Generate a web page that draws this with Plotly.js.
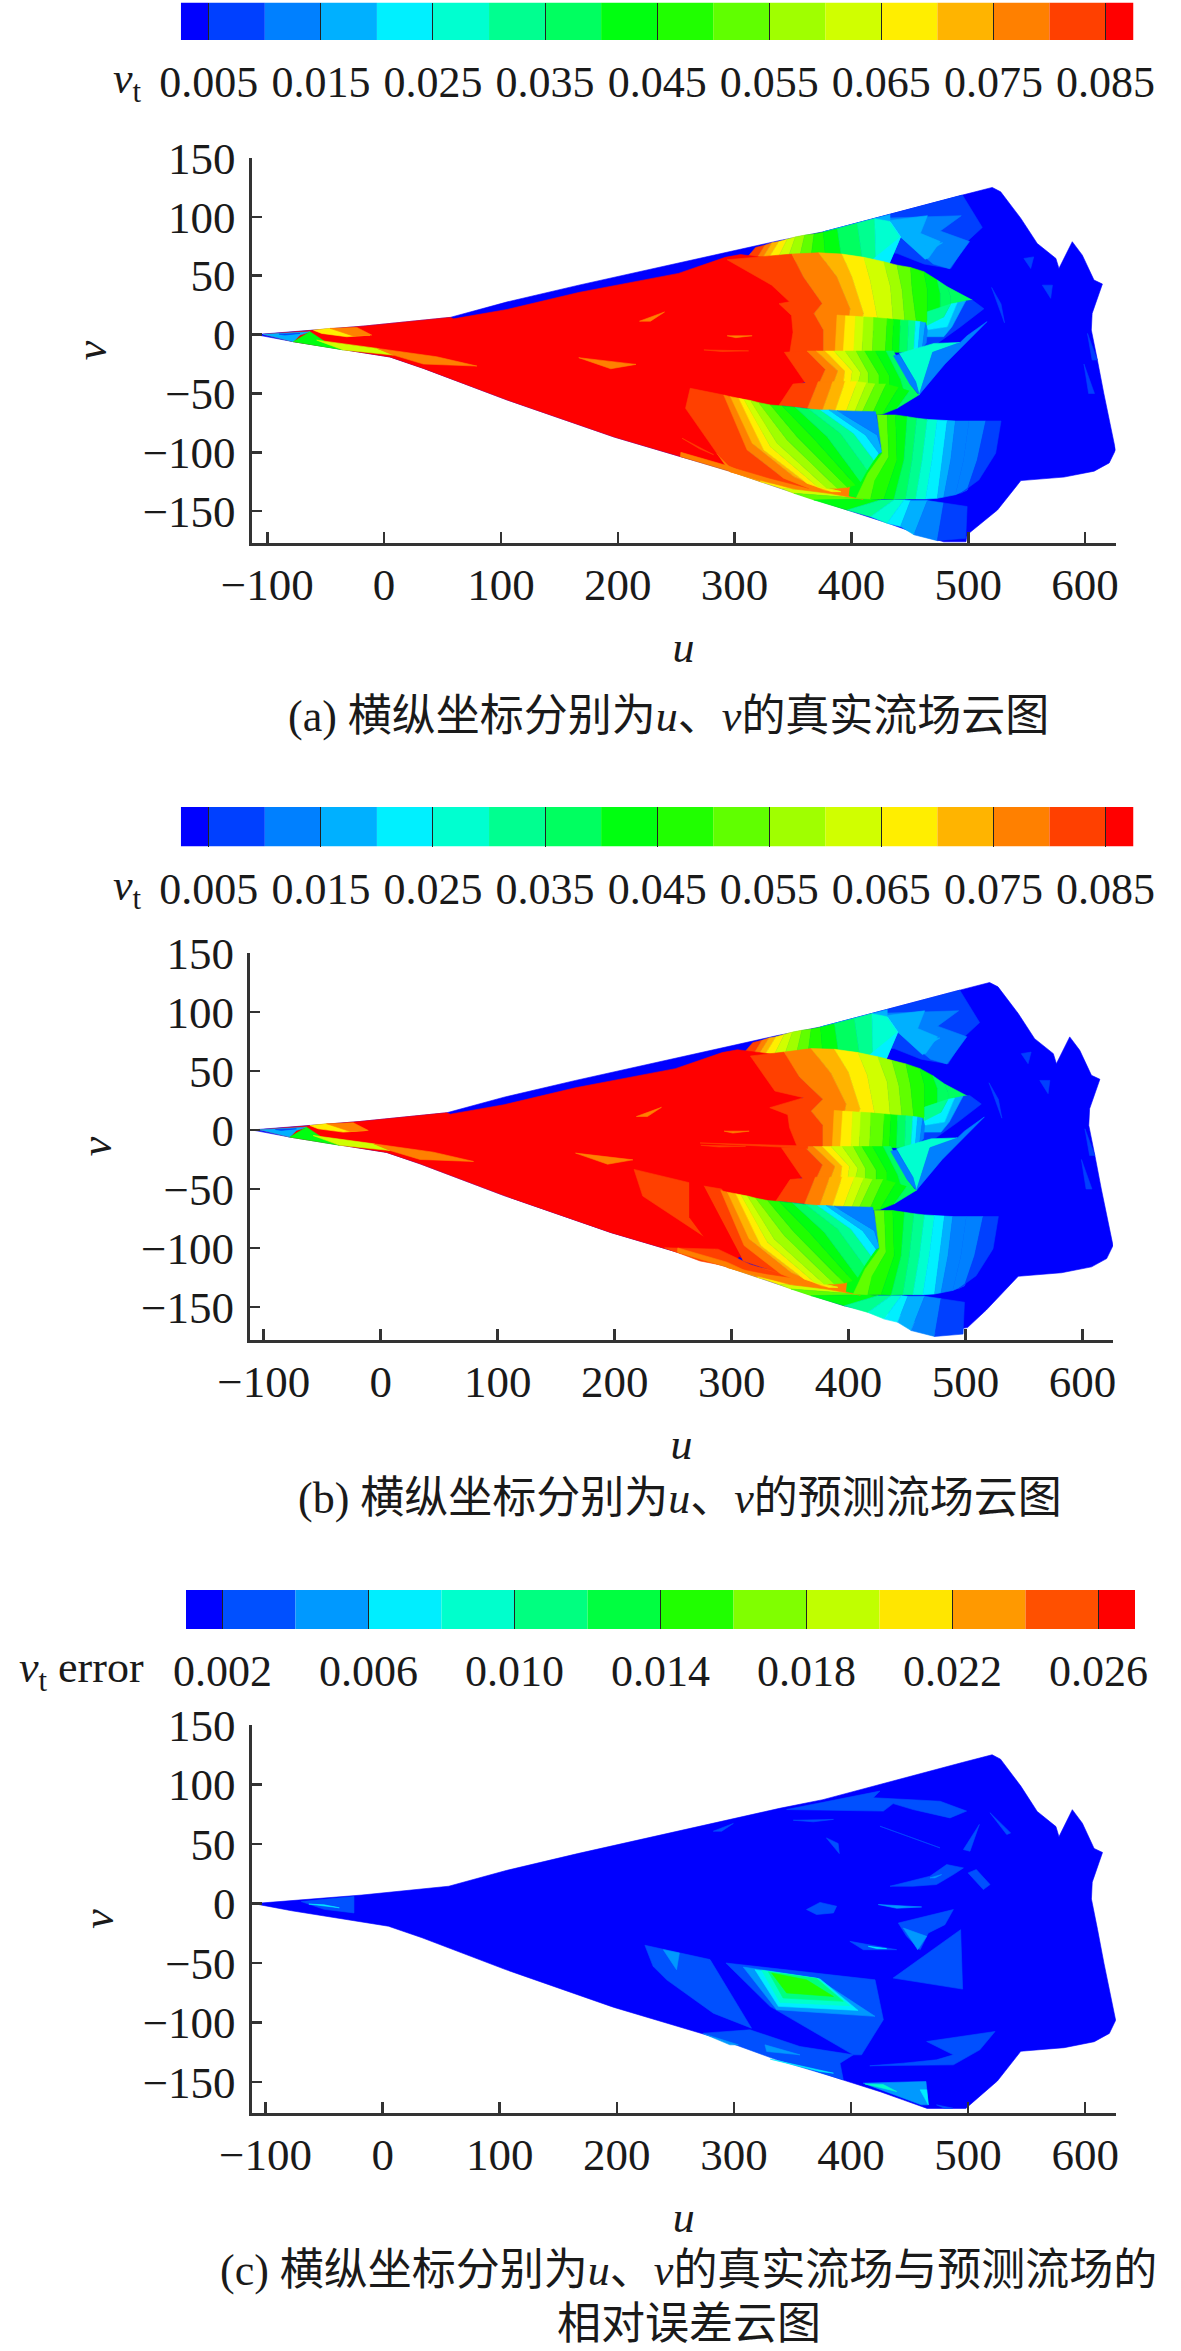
<!DOCTYPE html>
<html><head><meta charset="utf-8">
<script src="https://cdn.plot.ly/plotly-3.0.1.min.js"></script>
<style>html,body{margin:0;padding:0;background:#fff}</style></head>
<body><div id="chart" style="width:1181px;height:2351px"></div>
<script>
// ---------- colour levels and colour bar tick labels ----------
const vtColors=['#0000ff','#0040ff','#0080ff','#00b0ff','#00f0ff','#00ffd0','#00ff90','#00ff60','#00ff10','#20ff00','#60ff00','#a0ff00','#d0ff00','#ffee00','#ffb400','#ff8000','#ff4000','#ff0000'];
const vtStarts=[0.0025,0.005,0.01,0.015,0.02,0.025,0.03,0.035,0.04,0.045,0.05,0.055,0.06,0.065,0.07,0.075,0.08,0.085];
const vtWidths=[0.0025,0.005,0.005,0.005,0.005,0.005,0.005,0.005,0.005,0.005,0.005,0.005,0.005,0.005,0.005,0.005,0.005,0.0025];
const vtTicks=[0.005,0.015,0.025,0.035,0.045,0.055,0.065,0.075,0.085];
const vtTickText=['0.005','0.015','0.025','0.035','0.045','0.055','0.065','0.075','0.085'];
const errColors=['#0000ff','#0050ff','#0099ff','#00eeff','#00ffcc','#00ff80','#00ff40','#20ff00','#80ff00','#c0ff00','#ffe600','#ff9900','#ff5000','#ff0000'];
const errStarts=[0.001,0.002,0.004,0.006,0.008,0.010,0.012,0.014,0.016,0.018,0.020,0.022,0.024,0.026];
const errWidths=[0.001,0.002,0.002,0.002,0.002,0.002,0.002,0.002,0.002,0.002,0.002,0.002,0.002,0.001];
const errTicks=[0.002,0.006,0.010,0.014,0.018,0.022,0.026];
const errTickText=['0.002','0.006','0.010','0.014','0.018','0.022','0.026'];
const uTicks=[-100,0,100,200,300,400,500,600];
const vTicks=[-150,-100,-50,0,50,100,150];

// ---------- field outline (u,v) ----------
const outlineUpper=[[-110,0],[-60.5,3.8],[-17.7,7.2],[56.5,14.6],[105.5,27.8],[166.6,42],[252,60.7],[292,69.3],[339,80],[376,87.3],[445,105.7],[495,118.5],[520.5,125],[527.7,121.3],[545,98.7],[559,77.4],[575,64.7],[577.6,56.2],[589,78.9],[597.6,67.5],[607.6,46.3],[614.8,43],[606,18],[605.3,3.9],[610.5,-21.6],[616,-50],[626,-98],[620.6,-109],[607.7,-116],[582,-121],[545,-124]];
const outlineLower=[[396,-149],[368,-140],[339,-130.5],[296,-116],[253.6,-103.6],[197,-87],[105,-55.4],[59.5,-38],[33.7,-28.7],[5,-19],[-35,-13],[-77.7,-6]];
const bottomA=[[525,-149],[499,-170],[498,-176],[479,-176],[459,-170],[430.6,-160]];
const bottomB=[[517.7,-152.6],[501.6,-167.5],[472.6,-171.8],[447,-156.8],[425,-155]];
const bottomC=[[525,-149],[498,-172],[465,-172],[445,-165],[425,-158]];

// ---------- red core ----------
const redCoreA=[[-103,0.2],[-60.5,3.8],[-17.7,7.2],[56.5,14.6],[59.6,13.4],[105.5,21.4],[166.6,35.8],[252,52],[292,65.6],[305,68],[352,62],[360,30],[360,-14],[362,-39],[352,-44],[340,-60],[300,-116],[253.6,-103.6],[197,-87],[105,-55.4],[59.5,-38],[33.7,-28.7],[5,-19],[-35,-13],[-77.7,-6]];

// ---------- upper lobe bands ----------
const lobeLevels=[16,15,14,13,12,11,10,9,8,7,7];
const lobeA=[[[293.6,63.6],[331.8,42],[347,27.8],[338,26.3],[348.7,16.3],[350,2],[347,-16.7]],
[[349,68.4],[359,49],[375,26.5],[368,18],[376,4],[376,-16.7]],
[[372,69.5],[387.7,49],[399,22],[398,14],[388,-15.5]],
[[392,68.4],[400.6,49],[410.6,18],[400,-15]],
[[410.6,65.6],[416,46.3],[423.4,8]],
[[427.7,61.9],[433.4,40.6],[436,8]],
[[439,59],[443.4,37.8],[446,8]],
[[450.6,57],[452,37.8],[456,8]],
[[462,53.4],[465,37.8],[465,8]],
[[473.4,46.3],[476,35],[476,22]],
[[482,40.6],[485,32],[485,25]],
[[503.4,29.3]]];
const lobeB=[[[316,62.7],[337,33],[361.6,27.4],[332.6,18.9],[348,13],[349.5,2],[356,-14]],
[[345,66],[358,45],[378,26],[368,16],[378,4],[378,-14]],
[[368,69],[385,48],[398,22],[396,12],[388,-14]],
[[388,68.4],[400,49],[410,18],[400,-14]],
[[408,65.6],[416,46.3],[423.4,8]],
[[425,62],[433,40.6],[436,8]],
[[437,59],[443,37.8],[446,8]],
[[449,56],[453,37.8],[456,8]],
[[461,52],[465,37.8],[465,8]],
[[472,46],[476,35],[476,22]],
[[482,39],[485,32],[485,25]],
[[503,28]]];

// ---------- outer fan above the lobe ----------
const fanLevels=[16,15,14,13,12,11,10,9,8,7,6,5,4];
const fanStripes=[[[306,60],[318,74]],[[316,60],[326,76]],[[322,62],[332,78]],[[328,63],[338,79]],[[336,63],[345,81]],[[345,63],[352,83]],[[355,63],[360,84.5]],[[365,63],[368,85.5]],[[378,63],[376,87]],[[392,62],[388,90]],[[410,60],[405,94.5]],[[421,57],[420,98.5]],[[430,55],[442,83],[433,96]],[[416,62],[442,83],[433,96]]];
const fanL1=[[376,87.3],[445,105.7],[495,118.5],[512,91],[500,80],[485,56],[462,60],[439,69],[416,70],[433,96]];
const fanL2=[[431,99],[494,101],[476,88],[501,79],[484,56],[470,60],[442,83]];
const fanL3=[[433,97],[465,101],[459,86],[476,79],[466,65],[463,64],[442,83]];
const fanL3b=[[376,87.3],[433,102],[433,96],[405,94]];
const fanL4b=[[462,76],[478,78],[465,70]];

// ---------- inner lobe ----------
const innerLevels=[14,13,12,11,10,9,8,7,6,4,3,2];
const innerLobe=[[[387.7,16.6],[386,-15]],[[395,16],[393,-15]],[[403.5,15.5],[402,-15]],[[410.6,15],[409,-15]],[[419,14.5],[418,-15]],[[430.6,13.5],[429,-15]],[[436,13],[435,-15]],[[442,12.5],[441,-15]],[[449,12],[448,-15]],[[455,11.5],[453.4,-14.5]],[[459,11],[457,-13.5]],[[463.4,10],[460.6,-11.7]],[[465,4],[464,-7]]];

// ---------- patches right of the inner lobe ----------
const rightL6=[[465,19.4],[485,26],[479,15],[465,8]];
const rightL4=[[485,26],[490.5,27],[482,6.7],[464,3.9],[465,11],[479,15]];
const rightL3=[[490.5,27],[497.7,28.5],[486,6.7],[479,-1.8],[464,-1.8],[464,3.9],[482,6.7]];
const rightL1=[[497.7,28.5],[503.4,29.3],[513.4,22],[493.4,6.7],[473.4,-7.5],[462,-13],[464,-1.8],[479,-1.8],[486,6.7]];

// ---------- middle chevron ----------
const chevLevels=[16,15,14,13,12,11,10,9,8,7];
const chevron=[[[342.6,-15],[353,-29.6],[362,-43]],[[362,-14],[377.7,-29.6],[371.6,-43]],[[370,-14],[388.4,-31],[384,-43]],[[377.7,-14],[394.5,-31],[393,-43]],[[385,-14],[400.7,-31],[399,-43]],[[394.5,-14],[408,-32.5],[405,-44]],[[404,-14],[414.4,-32.5],[414.4,-44]],[[411.4,-14],[423.6,-34],[423.6,-44]],[[420.5,-14],[432.8,-35.3],[432.8,-46]],[[429.7,-14],[442,-38],[445,-48]],[[436,-14],[450,-42],[457,-51]]];
const vBlue=[[436,-18],[450,-42],[458,-51],[455,-40],[441,-17]];
const vWedge=[[441,-16],[455,-40],[458,-51],[469.5,-15],[493,-6.7],[470.6,-7.5]];
const vFringe=[[458,-51],[469.5,-15],[493,-6.7],[499,-1],[516,11],[505,0],[480,-25]];

// ---------- lower inner lobe ----------
const lowLobeLevels=[16,15,14,13,12,11,10,9,8,7];
const lowLobe=[[[350,-42],[338,-60]],[[371.6,-40],[362.4,-62.6]],[[384,-40],[374.7,-65.5]],[[394.6,-40],[385.4,-66.9]],[[405,-40],[394.6,-67.4]],[[413,-41],[402,-67.4]],[[420.5,-42],[408,-68.3]],[[429.7,-42],[417.5,-68.3]],[[440.4,-45],[426.7,-67.5]],[[449.6,-48],[439,-62.6]],[[458,-51]]];

// ---------- bottom outer strip ----------
const edgeLevels=[14,13,12,10,8,6,5,4,3,2,1];
const edgeStripes=[[[296.4,-116.4]],[[347.8,-129],[322,-124.9]],[[382,-133.4],[339.3,-130.5]],[[407.8,-139],[350.7,-134.8]],[[416.4,-139.6],[367.8,-140.4]],[[425,-140.4],[396.4,-149]],[[436.4,-140.4],[416.4,-154.6]],[[445,-140.4],[430.6,-160.3]],[[450.6,-141],[442,-163]],[[465,-141],[453.5,-170]],[[479,-143],[473.5,-175]],[[499,-146],[497.8,-173]]];
const wedgeUnderlay=[[285,-101],[296,-112],[342,-120],[364,-128],[408,-122],[410,-140],[382,-135],[350,-131],[296,-116.5]];
const seamFill=[[400,-120],[428,-98],[424,-122],[412,-140],[398,-137]];

// ---------- big lower wedge ----------
const wedgeLevels=[15,14,13,12,11,10,9,8,7,6,4,3,2];
const wedge=[[[290.7,-51.3],[310.7,-98],[342,-122],[363.5,-130.5]],[[296.4,-52.7],[315,-92.3],[350.7,-120.6],[376.4,-132]],[[303.6,-54.1],[325,-98],[362,-126.3],[383.5,-133.4]],[[307.9,-55],[330.7,-95.2],[370.7,-129],[390.7,-133.4]],[[313.6,-56],[336.4,-92.3],[379,-130.5]],[[320.7,-57.8],[345,-89.5],[387.8,-130.5]],[[330.7,-59.8],[353.5,-86.7],[396.4,-129.7]],[[340.7,-60.6],[366.4,-86.7],[403.5,-127.7]],[[352,-61.8],[379.2,-86.7],[407.8,-124.9]],[[363.5,-63.2],[390.7,-83.9],[413.5,-115]],[[373.5,-64],[402,-83.9],[419.2,-106.5]],[[380.7,-64],[412,-85.3],[423.5,-100.8]],[[387.8,-64.6],[422,-85.3],[426.4,-99.4]],[[420.6,-65.5],[425,-88],[426.4,-99.4]]];
const blockA=[[262,-45.6],[290.7,-51.3],[310.7,-98],[342,-122],[363.5,-130.5],[330,-122],[296,-112],[285,-101],[258,-62.6]];
const edgeOrangeA=[[253.6,-103.6],[296,-116],[322,-124],[296,-112],[254,-100]];
const slitA=[[255,-88],[282,-102],[270,-97]];
const blockB1=[[216.6,-33.4],[264,-44.7],[264,-74],[276,-90],[224,-56]];
const blockB2=[[276,-47.5],[291.4,-50],[322,-102.7],[352.5,-125.3],[310,-111]];
const blockB3=[[242.6,-99.8],[288.4,-101],[316,-114],[352.5,-125.3],[330,-122],[273,-111]];
const redStripB=[[264,-44],[276,-47.5],[308,-108],[290,-100],[276,-90],[264,-74]];
const flameB=[[273,-11],[365,-13.6],[365,-15.6]];

// ---------- right wedge ----------
const rightLevels=[10,9,8,7,6,5,4,3,2,2,1];
const rightWedge=[[[422,-68.3],[426.4,-100.8],[414,-118],[404,-139]],[[430.6,-68.3],[432,-103.7],[420,-124],[416.4,-139.6]],[[437.8,-68.3],[439,-106.5],[427.8,-139.6]],[[447.8,-69.7],[445,-106.5],[436.4,-139.9]],[[456,-71],[452,-106.5],[446.4,-139.6]],[[465,-72],[460.6,-106.5],[455,-139.6]],[[473.5,-72.5],[469,-106.5],[463.5,-139.6]],[[482,-73],[477.8,-106.5],[473.5,-139]],[[489,-73.4],[485,-106.5],[479,-138]],[[500.6,-73.4],[496,-106.5],[489,-136]],[[515,-73.4],[507.7,-106.5],[499,-132]],[[528,-73.4],[523.4,-100.8],[509,-123.5],[493.4,-134.8]]];

// ---------- small flecks and tip flames ----------
const fleckSets=[[15,[[218.6,11.4],[240,19.2],[228,11.4]]],[15,[[293.6,-1],[315,-1],[301,-2.6]]],[15,[[166.6,-19.6],[215.6,-25.3],[194,-29]]],[16,[[273.7,-13],[312,-13.8],[289,-14.4]]]];
const tipSets=[[3,[[-103.4,0.2],[-63.4,2.4],[-72,-0.4],[-77.7,-6]]],[8,[[-77.7,-6],[-63.4,2.4],[-46.3,-8.9],[-35,-13]]],[13,[[-60.5,3.8],[-46.3,5.3],[-12,-0.4],[-32,-1.8],[-53.4,1]]],[15,[[-46.3,5.3],[-23.4,6.1],[-10.6,-0.4],[-26,-1.3]]],[12,[[-57.7,-4.7],[-35,-13],[8,-17.4],[-6,-11.7]]],[15,[[-6,-11.7],[8,-17.4],[33.7,-25],[79.4,-26.7],[45,-18.8]]],[1,[[-90,0.4],[-72,1],[-85,-0.4]]]];
const sideSets=[[1,[[547.6,64.7],[556,66],[553.4,56.2]]],[1,[[563.4,42],[572,42],[570.5,30.8]]],[1,[[602,1],[610.5,-21.6],[606,-21.6]]],[1,[[520,40],[527,22],[531,10],[528,26]]],[1,[[599,-25],[608,-50],[603,-50]]]];

// ---------- error panel patches ----------
const errPatches=[[1,[[-69.5,1.7],[-24.5,6],[-24.5,-7.8],[-50,-4.8]]],[3,[[-63,-0.4],[-37,-3.5],[-50,-1]]],
[1,[[224,-35],[279.6,-47],[315,-104.6],[282.4,-92],[242.6,-64],[231,-52.7]]],[2,[[239.7,-38.7],[253.4,-41.5],[251,-55.5]]],
[1,[[293.2,-49.9],[420.5,-64],[427.6,-97.5],[409,-127],[402,-127],[330.8,-86.3]]],[2,[[308,-53.3],[370.6,-62.5],[420.5,-94.7],[336.5,-89.1]]],[3,[[318,-55.5],[373.5,-63.3],[406,-89.7],[338,-86.3]]],[4,[[323.7,-56],[372,-63],[399,-85.8],[339.3,-83]]],[5,[[329.4,-57.2],[370.6,-63],[393.4,-82.1],[342,-79.3]]],[7,[[332.2,-58.3],[362,-64],[385,-78],[345,-75]]],
[1,[[436,-62.5],[493.6,-21.9],[495.3,-71.8]]],[1,[[440.4,-16.3],[487.4,-5],[480.2,-17.7],[466,-24.7],[459,-38.7],[447.5,-27.5]]],[2,[[444.7,-20.5],[464.6,-27.5],[457,-38.7]]],
[1,[[500,25.8],[507,28.6],[518.7,16],[513,11.8]]],[1,[[496,45.4],[509.6,66.5],[501.6,44]]],[1,[[518.7,76.3],[536.3,59.4],[533,58]]],
[1,[[433.3,14.6],[467.4,23],[481.7,32.8],[496,30],[487.4,24.4],[473,16],[453,14.6]]],[2,[[467.4,21.6],[477.4,24.4],[471.7,21.6]]],
[1,[[362,-5],[373.5,1],[387.7,-2.2],[385,-7.8],[370.6,-9.2]]],[2,[[423.3,-0.8],[460.3,-2.8],[439,-3.9]]],[1,[[399,-31.7],[439,-38.7],[410.5,-38.7]]],[3,[[414.8,-35.9],[430.4,-37.8],[422,-37.8]]],
[1,[[345,79],[424.7,94.5],[419,88.9],[476,86],[498.7,77.7],[484.5,72],[453,79],[436,84],[427.6,77.7],[373.5,78.5]]],[1,[[424.7,65],[476,46.8],[453,55]]],[1,[[379,55.2],[389,50.5],[390,42]]],[1,[[282.4,60.8],[299.5,67.3],[289.5,60.8]]],[1,[[350.7,70],[385,70.7],[367.8,68.7]]],
[1,[[464.6,-115.8],[523,-107.4],[510,-122.8],[487.4,-135.4],[416,-136.2],[444.7,-134],[473,-131.2],[487.4,-127]]],
[1,[[274,-108.8],[313.7,-106],[356.4,-120],[402,-127],[390.6,-134],[393.4,-148],[336.5,-131.2]]],[2,[[326.5,-118.6],[356.4,-127],[328,-124.2]]],[2,[[274,-109.3],[303.8,-118.6],[296.6,-118.6]]],[3,[[331,-130.6],[385,-142.4],[373.5,-141]]],
[2,[[410.5,-150.8],[464,-149.4],[466,-169],[460,-169]]],[4,[[412,-151.4],[439,-157.8],[427.6,-152]]],[3,[[459,-156.4],[464.6,-156.4],[466,-169]]],[1,[[473,-169],[487,-171.8],[480,-172]]]];

// ---------- axis frames (pixels of the page) ----------
const W=1181,H=2351;
const fx=p=>p/W, fy=p=>1-p/H;
const panels=[
 {cb:[180.8,1133.5,2.5,40],plot:[251.6,1115.5,158,543],ur:[-113.4,626],vr:[-177,150],vst:23},
 {cb:[180.8,1133.5,807,846.5],plot:[250,1113,953,1340],ur:[-111.7,626],vr:[-178,150],vst:16},
 {cb:[186,1135,1590,1629],plot:[251.6,1116,1725,2112.7],ur:[-111.9,626.3],vr:[-175.6,150],vst:16}];

const SERIF="'Liberation Serif','Noto Sans CJK SC',serif";
const traces=[];
function poly(n,colors,level,pts){
  traces.push({type:'scatter',mode:'lines',xaxis:'x'+(2*n+1),yaxis:'y'+(2*n+1),
    x:pts.map(p=>p[0]).concat([pts[0][0]]),y:pts.map(p=>p[1]).concat([pts[0][1]]),
    fill:'toself',fillcolor:colors[level],line:{color:colors[level],width:0.6},hoverinfo:'skip',showlegend:false});
}
function bands(n,colors,levels,stripes){
  levels.forEach((lv,i)=>{ if(stripes[i+1]) poly(n,colors,lv,stripes[i].concat(stripes[i+1].slice().reverse())); });
}
function flowField(n,c,bottom,core,lobe,extra){
  poly(n,c,0,outlineUpper.concat(bottom,outlineLower));
  poly(n,c,1,fanL1);poly(n,c,2,fanL2);poly(n,c,3,fanL3);poly(n,c,3,fanL3b);poly(n,c,3,fanL4b);
  bands(n,c,fanLevels,fanStripes);
  poly(n,c,17,core);
  bands(n,c,edgeLevels,edgeStripes);
  bands(n,c,lobeLevels,lobe);
  poly(n,c,1,rightL1);poly(n,c,3,rightL3);poly(n,c,4,rightL4);poly(n,c,6,rightL6);
  bands(n,c,innerLevels,innerLobe);
  bands(n,c,chevLevels,chevron);
  poly(n,c,5,vWedge);poly(n,c,2,vFringe);poly(n,c,2,vBlue);
  bands(n,c,lowLobeLevels,lowLobe);
  poly(n,c,15,wedgeUnderlay);
  poly(n,c,8,seamFill);
  extra();
  bands(n,c,wedgeLevels,wedge);
  bands(n,c,rightLevels,rightWedge);
  fleckSets.concat(tipSets,sideSets).forEach(f=>poly(n,c,f[0],f[1]));
}
flowField(0,vtColors,bottomA,redCoreA,lobeA,()=>{poly(0,vtColors,16,blockA);poly(0,vtColors,15,edgeOrangeA);poly(0,vtColors,16,slitA);});
flowField(1,vtColors,bottomB,redCoreA,lobeB,()=>{poly(1,vtColors,16,blockB1);poly(1,vtColors,16,blockB2);poly(1,vtColors,16,blockB3);poly(1,vtColors,17,redStripB);poly(1,vtColors,15,edgeOrangeA);poly(1,vtColors,16,flameB);});
poly(2,errColors,0,outlineUpper.concat(bottomC,outlineLower));
errPatches.forEach(f=>poly(2,errColors,f[0],f[1]));

// colour bars
function cbar(n,colors,starts,widths){
  traces.push({type:'bar',orientation:'h',xaxis:'x'+(2*n+2),yaxis:'y'+(2*n+2),y:colors.map(()=>0.5),x:widths,base:starts,width:1,
    marker:{color:colors,line:{width:0}},hoverinfo:'skip',showlegend:false});
}
cbar(0,vtColors,vtStarts,vtWidths);cbar(1,vtColors,vtStarts,vtWidths);cbar(2,errColors,errStarts,errWidths);

const layout={width:W,height:H,margin:{l:0,r:0,t:0,b:0},paper_bgcolor:'#fff',plot_bgcolor:'rgba(0,0,0,0)',showlegend:false,barmode:'overlay',
  font:{family:SERIF,size:44,color:'#1a1a1a'},annotations:[]};
const LC='#333';
panels.forEach((p,n)=>{
  const a=2*n+1,b=2*n+2;
  layout['xaxis'+a]={domain:[fx(p.plot[0]),fx(p.plot[1])],range:p.ur,anchor:'y'+a,tickvals:uTicks,ticktext:uTicks.map(t=>t<0?'\u2212'+(-t):''+t),ticks:'inside',ticklen:11,tickwidth:2.5,tickcolor:LC,showline:true,linecolor:LC,linewidth:3,showgrid:false,zeroline:false,ticklabelstandoff:0,tickfont:{size:45},title:{text:'<i>u</i>',font:{size:44},standoff:23},automargin:false};
  layout['yaxis'+a]={domain:[fy(p.plot[3]),fy(p.plot[2])],range:p.vr,anchor:'x'+a,tickvals:vTicks,ticktext:vTicks.map(t=>t<0?'\u2212'+(-t):''+t),ticks:'inside',ticklen:10,tickwidth:2.5,tickcolor:LC,showline:true,linecolor:LC,linewidth:3,showgrid:false,zeroline:false,ticklabelstandoff:4,tickfont:{size:45},title:{text:'<i>v</i>',font:{size:44},standoff:p.vst},automargin:false};
  const isErr=n===2;
  layout['xaxis'+b]={domain:[fx(p.cb[0]),fx(p.cb[1])],range:isErr?[0.001,0.027]:[0.0025,0.0875],anchor:'y'+b,tickvals:isErr?errTicks:vtTicks,ticktext:isErr?errTickText:vtTickText,ticks:'inside',ticklen:p.cb[3]-p.cb[2],tickwidth:1,tickcolor:'#222',showline:false,showgrid:false,zeroline:false,ticklabelstandoff:12,tickfont:{size:44},automargin:false};
  layout['yaxis'+b]={domain:[fy(p.cb[3]),fy(p.cb[2])],range:[0,1],anchor:'x'+b,visible:false,fixedrange:true};
});
function note(text,x,y,size,anchor){layout.annotations.push({text,x:fx(x),y:fy(y),xref:'paper',yref:'paper',showarrow:false,xanchor:anchor||'center',yanchor:'middle',font:{size:size||44,family:SERIF,color:'#1a1a1a'}});}
note('<i>v</i><sub>t</sub>',127,82,44);
note('<i>v</i><sub>t</sub>',127,888,44);
note('<i>v</i><sub>t</sub> error',81,1671,44);
note('(a) 横纵坐标分别为<i>u</i>、<i>v</i>的真实流场云图',668,716,44);
note('(b) 横纵坐标分别为<i>u</i>、<i>v</i>的预测流场云图',680,1498,44);
note('(c) 横纵坐标分别为<i>u</i>、<i>v</i>的真实流场与预测流场的',688,2270,44);
note('相对误差云图',689,2324,44);

Plotly.newPlot('chart',traces,layout,{staticPlot:true,displayModeBar:false});
</script></body></html>
